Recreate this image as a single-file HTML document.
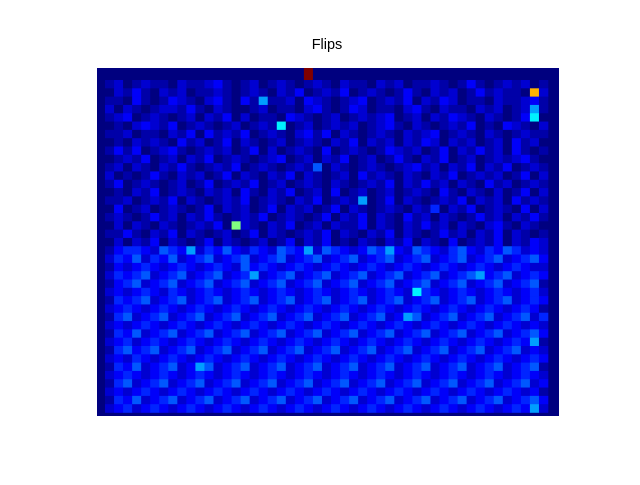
<!DOCTYPE html>
<html><head><meta charset="utf-8"><style>
html,body{margin:0;padding:0;background:#fff;}
#wrap{position:relative;width:640px;height:480px;font-family:"Liberation Sans",sans-serif;}
</style></head><body>
<div id="wrap">
<svg id="svg" width="640" height="480">
<text x="327" y="49" text-anchor="middle" font-size="14.5" font-family="Liberation Sans, sans-serif">Flips</text>
<rect x="97" y="68" width="462" height="348" fill="#00007f"/>
<g id="cells"></g>
</svg>
</div>
<script>
// level -> value lookup (data scale)
const levelValues = [0.0, 0.04, 0.08, 0.12, 0.16, 0.21, 0.28, 0.36, 0.5, 0.7];
// header strip: 'X' marks max-valued column
const headerRow = "0000000000000000000000X00000000000000000000000000";
// heatmap rows, levels 0-9 per column (49 columns)
const rows = [
"1201211021123101201210121021102120112101310121201",
"0213102120112101210213012130121013102120131211092",
"1103101321023103161120321012301213021320110211231",
"2021012213102100120110231013201102310211021201261",
"1230121012021302011032101201212301202132102101370",
"0102321301210120121701201212012310210121301032102",
"1120110213031213012102313021012102123012102101211",
"0102121031201302101201210213021202132021201203120",
"1313012310121201302012103012101321201302131203101",
"0121301202130121012301202130120131021301201212310",
"1202102131012130121012150210121012312021302130121",
"2010131021201302102130210120312102102130121201302",
"1301210120130121301201210210121302131202103120121",
"0102130121021203102130120301201201210310210201302",
"1120121302101213012102130121601302101213021203121",
"0301201210130212013021201302101210214021301210302",
"1210131202131012130121013021302103120210131202131",
"0202102101213082102130120211302102131202102310210",
"1131021302101201302101213021021302101312021302101",
"0202130210130210120130213010210213021030121302132",
"1344325436243532432543625432354632543245324354232",
"2435243523452345234523452345234523452345234523453",
"1323432343234325343234323432343234323432343234322",
"2434523452345234623452345234523452345234563452343",
"1345234523452345234523452345234523452345234523451",
"2323432432343234323432343234323432743234323432342",
"1434523452345234523452345234523452345234523452343",
"2343234323432343234323432343234323432343234323431",
"1452345234523452345234523452345236523452345234524",
"2323432343234323432343234323432343234323432343232",
"1435234523452345234523452345234523452345234523453",
"2342343234323432343234323432343234323432343234361",
"1453452345234523452345234523452345234523452345232",
"2324323432343234323432343234323432343234323432343",
"1435234523652345234523452345234523452345234523451",
"2343234323432343234323432343234323432343234323432",
"1452345234523452345234523452345234523452345234523",
"2323432343234323432343234323432343234323432343231",
"1435234523452345234523452345234523452345234523453",
"2342343234323432343234323432343234323432343234362"
];
function jet(v){
  function c(x){return Math.max(0,Math.min(1,x));}
  const r=c(1.5-Math.abs(4*v-3)), g=c(1.5-Math.abs(4*v-2)), b=c(1.5-Math.abs(4*v-1));
  return "rgb("+Math.round(r*255)+","+Math.round(g*255)+","+Math.round(b*255)+")";
}
const x0=105, x1=548, y0=80, y1=412.5;
const nCols = headerRow.length;
const cw=(x1-x0)/nCols, rh=(y1-y0)/rows.length;
const xPos = i => x0 + i*cw;
const yPos = j => y0 + j*rh;
const g=document.getElementById('cells');
const NS="http://www.w3.org/2000/svg";
for(let i=0;i<headerRow.length;i++){
  if(headerRow[i]!=='X') continue;
  const r=document.createElementNS(NS,'rect');
  r.setAttribute('x',xPos(i)); r.setAttribute('y',68);
  r.setAttribute('width',cw); r.setAttribute('height',y0-68);
  r.setAttribute('fill','#800000');
  
  
  g.appendChild(r);
}
rows.forEach((row,j)=>{
  for(let i=0;i<row.length;i++){
    const v=levelValues[+row[i]];
    const r=document.createElementNS(NS,'rect');
    r.setAttribute('x',xPos(i)); r.setAttribute('y',yPos(j));
    r.setAttribute('width',cw+0.3); r.setAttribute('height',rh+0.3);
    r.setAttribute('fill', jet(v));
    
    
    g.appendChild(r);
  }
});
</script>
</body></html>
